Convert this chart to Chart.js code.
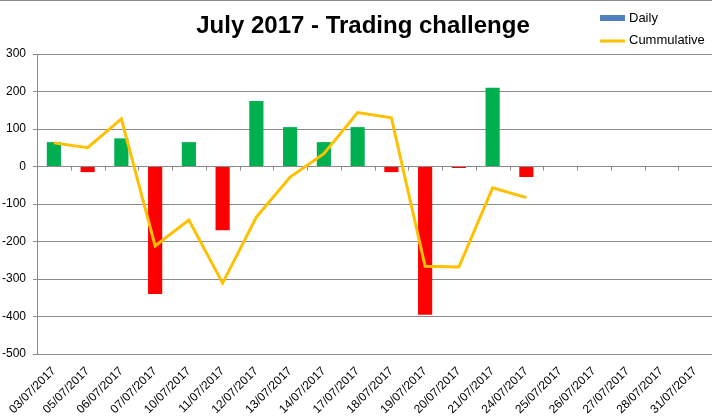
<!DOCTYPE html>
<html>
<head>
<meta charset="utf-8">
<title>July 2017 - Trading challenge</title>
<script src="https://cdn.jsdelivr.net/npm/chart.js@4.4.1/dist/chart.umd.min.js"></script>
<style>
    html, body { margin: 0; padding: 0; background: #fff; }
    #wrap { position: relative; width: 712px; height: 420px; }
</style>
</head>
<body>
<div id="wrap"><canvas id="tradingChart"></canvas></div>
<script>
// Datos
const dates = ['03/07/2017', '05/07/2017', '06/07/2017', '07/07/2017', '10/07/2017',
    '11/07/2017', '12/07/2017', '13/07/2017', '14/07/2017', '17/07/2017',
    '18/07/2017', '19/07/2017', '20/07/2017', '21/07/2017', '24/07/2017',
    '25/07/2017', '26/07/2017', '27/07/2017', '28/07/2017', '31/07/2017'];
const daily = [65, -15, 75, -340, 65, -170, 175, 105, 65, 105, -15, -395, -4, 210, -28];
const cummulative = [63, 50, 127, -212, -143, -311, -135, -28, 34, 144, 130, -266, -268, -57, -83];
const yTicks = [-500, -400, -300, -200, -100, 0, 100, 200, 300];

const FONT = "'Liberation Sans', Arial, sans-serif";
const GRID = '#8a8a8a';

// Titulo, marcas del eje horizontal en el cero y leyenda
const excelBits = {
    id: 'excelBits',
    beforeDatasetsDraw(chart) {
        const ctx = chart.ctx;
        const x = chart.scales.x;
        const y0 = chart.scales.y.getPixelForValue(0);
        ctx.save();
        ctx.strokeStyle = GRID;
        ctx.lineWidth = 1;
        ctx.beginPath();
        for (let i = 1; i < dates.length; i++) {
            const px = Math.round((x.getPixelForValue(i - 1) + x.getPixelForValue(i)) / 2) + 0.5;
            ctx.moveTo(px, y0);
            ctx.lineTo(px, y0 + 4);
        }
        // borde superior del grafico
        ctx.moveTo(0, 0.5);
        ctx.lineTo(chart.width, 0.5);
        ctx.stroke();
        ctx.restore();
    },
    afterDraw(chart) {
        const ctx = chart.ctx;
        ctx.save();
        // titulo
        ctx.font = 'bold 24px ' + FONT;
        ctx.fillStyle = '#000';
        ctx.textAlign = 'center';
        ctx.textBaseline = 'middle';
        ctx.fillText('July 2017 - Trading challenge', 363, 26);
        // leyenda
        ctx.textAlign = 'left';
        ctx.font = '13px ' + FONT;
        ctx.fillStyle = '#4F81BD';
        ctx.fillRect(600, 15, 25, 6);
        ctx.fillStyle = '#000';
        ctx.fillText('Daily', 629, 18);
        ctx.strokeStyle = '#FFC000';
        ctx.lineWidth = 3;
        ctx.beginPath();
        ctx.moveTo(600, 41);
        ctx.lineTo(625, 41);
        ctx.stroke();
        ctx.fillText('Cummulative', 629, 40);
        ctx.restore();
    }
};

document.addEventListener('DOMContentLoaded', function() {
    const ctx = document.getElementById('tradingChart');
    new Chart(ctx, {
        type: 'bar',
        data: {
            labels: dates,
            datasets: [{
                type: 'line',
                label: 'Cummulative',
                data: cummulative,
                borderColor: '#FFC000',
                borderWidth: 3,
                pointRadius: 0,
                tension: 0,
                fill: false,
                order: 0
            }, {
                label: 'Daily',
                data: daily,
                backgroundColor: c => (c.raw < 0 ? '#FF0000' : '#00B050'),
                categoryPercentage: 1,
                barPercentage: 0.42,
                order: 1
            }]
        },
        options: {
            responsive: true,
            maintainAspectRatio: false,
            animation: false,
            layout: { padding: { left: 0, right: 0, top: 54, bottom: 0 } },
            scales: {
                x: {
                    offset: true,
                    grid: { display: false, drawTicks: false },
                    border: { display: false },
                    afterFit: s => {
                        s.height = 66;
                        s.paddingLeft = 0;
                        s.paddingRight = 0;
                    },
                    ticks: {
                        color: '#000',
                        font: { family: FONT, size: 12 },
                        minRotation: 45,
                        maxRotation: 45,
                        autoSkip: false,
                        padding: 10
                    }
                },
                y: {
                    min: -500,
                    max: 300,
                    afterFit: s => { s.width = 37; },
                    afterBuildTicks: s => { s.ticks = yTicks.map(v => ({ value: v })); },
                    grid: { color: GRID, tickLength: 4, lineWidth: 1 },
                    border: { display: true, color: GRID },
                    ticks: {
                        color: '#000',
                        font: { family: FONT, size: 12 },
                        padding: 7
                    }
                }
            },
            plugins: {
                legend: { display: false },
                tooltip: { enabled: false },
                title: { display: false }
            }
        },
        plugins: [excelBits]
    });
});
</script>
</body>
</html>
